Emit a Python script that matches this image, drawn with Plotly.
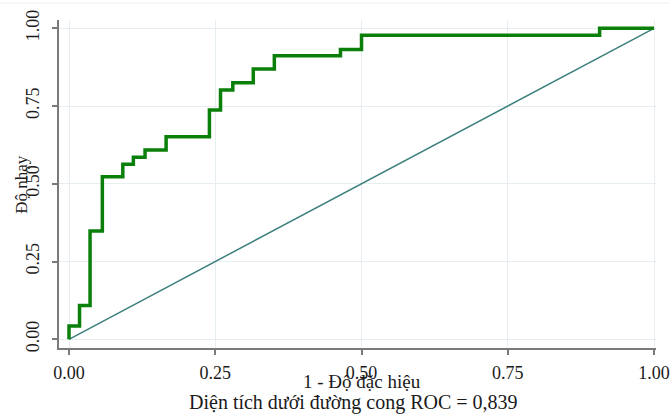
import plotly.graph_objects as go

# ROC step curve corners (1 - specificity, sensitivity)
fpr = [0.0, 0.0, 0.018, 0.036, 0.057, 0.092, 0.110, 0.130, 0.166, 0.240,
       0.259, 0.280, 0.315, 0.351, 0.464, 0.500, 0.907, 1.0]
tpr = [0.0, 0.043, 0.109, 0.348, 0.523, 0.563, 0.585, 0.609, 0.651, 0.737,
       0.802, 0.825, 0.869, 0.912, 0.932, 0.978, 1.0, 1.0]
ref_x = [0.0, 1.0]
ref_y = [0.0, 1.0]
tick_vals = [0.0, 0.25, 0.5, 0.75, 1.0]
tick_text = ["0.00", "0.25", "0.50", "0.75", "1.00"]
x_title = "1 - Độ đặc hiệu"
y_title = "Độ nhạy"
caption = "Diện tích dưới đường cong ROC = 0,839"

FONT = "Liberation Serif"
TXT = "#1a1a1a"

fig = go.Figure()
fig.add_trace(go.Scatter(x=ref_x, y=ref_y, mode="lines",
                         line=dict(color="#3d7f7c", width=1.5),
                         hoverinfo="skip", showlegend=False))
fig.add_trace(go.Scatter(x=fpr, y=tpr, mode="lines",
                         line=dict(color="#0a800a", width=3.5, shape="hv"),
                         showlegend=False))

axis_common = dict(
    tickvals=tick_vals, ticktext=tick_text,
    showgrid=True, gridcolor="#e6eef1", gridwidth=1,
    zeroline=False,
    showline=True, linecolor="#7a7a7a", linewidth=2,
    ticks="outside", ticklen=5, tickcolor="#7a7a7a", tickwidth=1.5,
    tickfont=dict(family=FONT, size=18, color=TXT),
    automargin=False,
)

fig.update_layout(
    width=670, height=415,
    margin=dict(l=59, r=14, t=20, b=67),
    paper_bgcolor="white", plot_bgcolor="white",
    xaxis=dict(range=[-0.0171, 1.0034], ticklabelstandoff=2, **axis_common),
    yaxis=dict(range=[-0.028, 1.0267], tickangle=-90, ticklabelstandoff=6, **axis_common),
    font=dict(family=FONT, color=TXT),
    annotations=[
        dict(text=x_title, xref="x", yref="paper", x=0.5, y=-0.102,
             xanchor="center", yanchor="middle", showarrow=False,
             font=dict(family=FONT, size=19, color=TXT)),
        dict(text=y_title, xref="paper", yref="paper", x=-0.064, y=0.5,
             xanchor="center", yanchor="middle", showarrow=False, textangle=-90,
             font=dict(family=FONT, size=17, color=TXT)),
        dict(text=caption, xref="paper", yref="paper", x=0.494, y=-0.166,
             xanchor="center", yanchor="middle", showarrow=False,
             font=dict(family=FONT, size=20, color=TXT)),
    ],
    shapes=[dict(type="line", xref="paper", yref="paper", x0=-0.1, x1=1.04,
                 y0=1.052, y1=1.052, line=dict(color="#eef0f2", width=1))],
)

fig.write_html("out.html",
               config={"displayModeBar": False},
               post_script="document.body.style.margin='0';document.body.style.overflow='hidden';")
